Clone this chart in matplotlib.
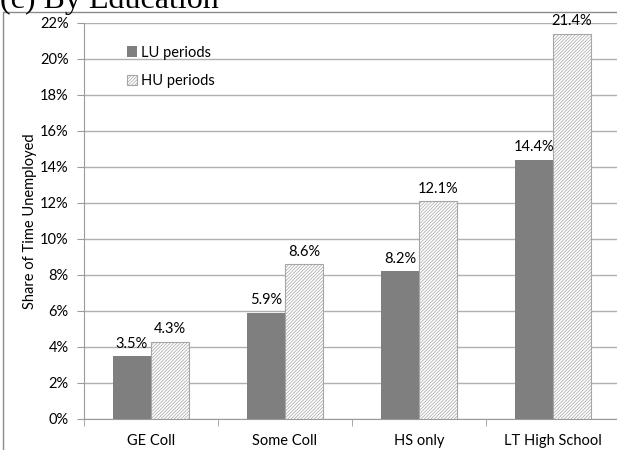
import matplotlib.pyplot as plt
from matplotlib.patches import Rectangle
from matplotlib.ticker import FuncFormatter, MultipleLocator

categories = ["GE Coll", "Some Coll", "HS only", "LT High School"]
lu_values = [3.5, 5.9, 8.2, 14.4]
hu_values = [4.3, 8.6, 12.1, 21.4]

plt.rcParams['font.family'] = ['Lato', 'DejaVu Sans']
plt.rcParams['hatch.color'] = '#a8a8a8'
plt.rcParams['hatch.linewidth'] = 0.5

fig = plt.figure(figsize=(6.17, 4.5), dpi=100)
ax = fig.add_axes([84 / 617, 1 - 419 / 450, 536 / 617, 396 / 450])

x = list(range(len(categories)))
w = 0.285
lu_bars = ax.bar([i - w / 2 for i in x], lu_values, w, color='#7f7f7f',
                 label='LU periods', zorder=3)
hu_bars = ax.bar([i + w / 2 for i in x], hu_values, w, color='white',
                 edgecolor='#a6a6a6', linewidth=0.8, hatch='//////////',
                 label='HU periods', zorder=3)

for bars, vals in [(lu_bars, lu_values), (hu_bars, hu_values)]:
    for b, v in zip(bars, vals):
        ax.text(b.get_x() + b.get_width() / 2, v + 0.3, f"{v:.1f}%",
                ha='center', va='bottom', fontsize=10.5, color='black', zorder=4)

ax.set_xlim(-0.5, 3.5)
ax.set_ylim(0, 22)
ax.yaxis.set_major_locator(MultipleLocator(2))
ax.yaxis.set_major_formatter(FuncFormatter(lambda v, p: f"{v:.0f}%"))
ax.grid(axis='y', color='#b0b0b0', linewidth=1, zorder=0)
ax.set_xticks(x)
ax.set_xticklabels(categories, fontsize=10.5)
ax.set_xticks([i - 0.5 for i in range(len(categories) + 1)], minor=True)
ax.tick_params(axis='x', which='major', length=0, pad=11)
ax.tick_params(axis='x', which='minor', length=5, color='#9a9a9a')
ax.tick_params(axis='y', length=5, color='#9a9a9a', labelsize=10.5, pad=6)

for s in ['top', 'right']:
    ax.spines[s].set_visible(False)
for s in ['left', 'bottom']:
    ax.spines[s].set_color('#9a9a9a')

ax.set_ylabel("Share of Time Unemployed", fontsize=10.5, labelpad=2)

ax.legend(loc='upper left', bbox_to_anchor=(0.055, 0.976), frameon=False,
          fontsize=10.5, handlelength=0.7, handleheight=0.7,
          handletextpad=0.3, labelspacing=1.0)

# outer chart frame and clipped panel title
fig.patches.append(Rectangle((3 / 617, -0.1), 1.0, 1 - 12 / 450 + 0.1,
                             transform=fig.transFigure, fill=False,
                             edgecolor='#8c8c8c', linewidth=1))
fig.text(0.0, 1 - 8 / 450, "(c) By Education", family='Liberation Serif',
         fontsize=23, va='baseline', ha='left')

fig.savefig("out.png", dpi=100)
